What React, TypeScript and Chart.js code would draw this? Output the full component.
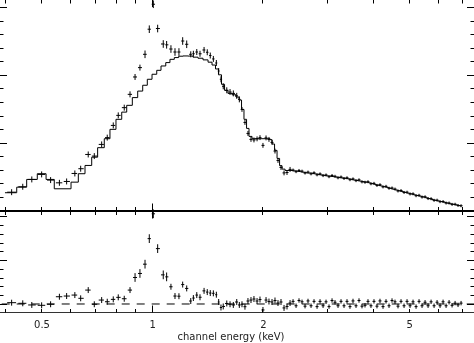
import React, { useEffect, useRef } from "react";
import { Chart, registerables } from "chart.js";

Chart.register(...registerables);

// ---- axis ranges (keV, normalised counts in units of 0.01 /s/keV, residual in sigma)
const E_MIN = 0.38436;
const E_MAX = 7.5706;
const RATE_MIN = -7.553;
const RATE_MAX = 15.586;
const RES_MIN = -1.0286;
const RES_MAX = 34.857;

// ---- tick definitions
const xTicks = [0.4, 0.5, 0.6, 0.7, 0.8, 0.9, 1, 2, 3, 4, 5, 6, 7];
const xMajorTicks = [1];
const xTickLabels = ["0.5", "1", "2", "5"];
const xTickLabelValues = [0.5, 1, 2, 5];
const rateTicks = [1, 2, 3, 4, 5, 6, 7, 8, 9, 10, 11, 12, 13, 14, 15];
const rateMajorTicks = [5, 10, 15];
const resTicks = [0, 1, 2, 3, 4, 5, 6, 7, 8, 9, 10];
const resMajorTicks = [0, 5, 10];
const xTitle = "channel energy (keV)";

// ---- low-energy channels (wide bins)
const lowEnergies = [
  0.416, 0.446, 0.472, 0.502, 0.531, 0.561, 0.587, 0.618, 0.641, 0.672,
  0.698, 0.731, 0.757, 0.786, 0.811, 0.842, 0.873, 0.901, 0.929, 0.959,
  0.985, 1.01, 1.038, 1.075, 1.098, 1.128, 1.157, 1.186, 1.214, 1.245,
  1.277, 1.298, 1.326, 1.353, 1.388, 1.416, 1.443, 1.471, 1.499, 1.521,
  1.543, 1.565, 1.6, 1.633, 1.667, 1.703, 1.731, 1.76, 1.793, 1.827,
  1.862, 1.897, 1.934, 1.97, 2.007, 2.046, 2.084, 2.124, 2.164, 2.205,
  2.247, 2.29, 2.333, 2.378,
];
const lowRates = [
  1.35, 1.75, 2.29, 2.66, 2.24, 2.04, 2.14, 2.73, 3.08, 4.13,
  4.01, 4.87, 5.37, 6.27, 7.01, 7.58, 8.56, 9.84, 10.53, 11.51,
  13.36, 15.2, 13.41, 12.27, 12.21, 11.9, 11.68, 11.68, 12.49, 12.25,
  11.51, 11.55, 11.68, 11.55, 11.83, 11.66, 11.42, 11.17, 10.87, 10.28,
  9.67, 9.15, 8.86, 8.73, 8.63, 8.45, 8.19, 7.45, 6.49, 5.68,
  5.24, 5.2, 5.28, 5.37, 4.8, 5.35, 5.24, 5.02, 4.38, 3.69,
  3.17, 2.77, 2.8, 3.03,
];
const lowRateErr = [
  0.22, 0.22, 0.22, 0.22, 0.22, 0.22, 0.22, 0.22, 0.22, 0.22,
  0.22, 0.22, 0.22, 0.22, 0.22, 0.22, 0.22, 0.22, 0.22, 0.28,
  0.28, 0.28, 0.28, 0.28, 0.28, 0.28, 0.28, 0.28, 0.28, 0.28,
  0.22, 0.22, 0.22, 0.22, 0.22, 0.22, 0.22, 0.22, 0.22, 0.22,
  0.22, 0.22, 0.22, 0.22, 0.22, 0.22, 0.22, 0.18, 0.18, 0.18,
  0.18, 0.18, 0.18, 0.18, 0.18, 0.18, 0.18, 0.18, 0.18, 0.18,
  0.18, 0.18, 0.18, 0.18,
];
const lowResid = [
  0.15, 0.08, -0.11, -0.15, -0.03, 0.83, 0.91, 1.02, 0.65, 1.59,
  -0.03, 0.45, 0.26, 0.53, 0.76, 0.6, 1.59, 3.03, 3.49, 4.55,
  7.47, 10.31, 6.33, 3.33, 3.1, 1.97, 0.91, 0.89, 2.22, 1.78,
  0.34, 0.68, 1.02, 0.77, 1.5, 1.36, 1.25, 1.22, 1.06, 0.23,
  -0.4, -0.28, 0.06, -0.03, -0.11, 0.23, -0.11, -0.03, -0.31, 0.34,
  0.45, 0.57, 0.34, 0.51, -0.68, 0.45, 0.28, 0.23, 0.4, 0.11,
  0.23, -0.45, -0.28, 0.11,
];
const lowResidErr = [
  0.34, 0.34, 0.34, 0.34, 0.34, 0.34, 0.34, 0.34, 0.34, 0.34,
  0.34, 0.34, 0.34, 0.34, 0.34, 0.34, 0.34, 0.5, 0.5, 0.5,
  0.5, 0.5, 0.5, 0.5, 0.5, 0.34, 0.34, 0.34, 0.34, 0.34,
  0.34, 0.34, 0.34, 0.34, 0.34, 0.34, 0.34, 0.34, 0.34, 0.34,
  0.34, 0.34, 0.34, 0.34, 0.34, 0.34, 0.34, 0.34, 0.34, 0.34,
  0.34, 0.34, 0.34, 0.34, 0.34, 0.34, 0.34, 0.34, 0.34, 0.34,
  0.34, 0.34, 0.34, 0.34,
];

// ---- high-energy channels (dense)
const highEnergies = [
  2.423, 2.469, 2.515, 2.563, 2.612, 2.661, 2.712, 2.763, 2.816, 2.869,
  2.924, 2.979, 3.035, 3.093, 3.151, 3.211, 3.272, 3.334, 3.397, 3.461,
  3.527, 3.594, 3.662, 3.731, 3.802, 3.874, 3.947, 4.022, 4.098, 4.176,
  4.256, 4.337, 4.419, 4.503, 4.588, 4.675, 4.764, 4.855, 4.947, 5.041,
  5.136, 5.234, 5.333, 5.434, 5.538, 5.643, 5.75, 5.859, 5.97, 6.083,
  6.199, 6.316, 6.436, 6.558, 6.683, 6.808, 6.938,
];
const highRates = [
  2.98, 2.86, 2.95, 2.9, 2.76, 2.83, 2.7, 2.78, 2.63, 2.7,
  2.57, 2.62, 2.49, 2.58, 2.52, 2.41, 2.47, 2.36, 2.41, 2.27,
  2.33, 2.2, 2.26, 2.11, 2.08, 2.12, 1.97, 2.0, 1.85, 1.9,
  1.74, 1.78, 1.64, 1.66, 1.58, 1.44, 1.47, 1.33, 1.35, 1.22,
  1.23, 1.09, 1.12, 0.99, 1.01, 0.88, 0.87, 0.75, 0.76, 0.65,
  0.66, 0.55, 0.55, 0.45, 0.46, 0.37, 0.35,
];
const highRateErr = 0.11;
const highModel = [
  2.93, 2.91, 2.88, 2.84, 2.8, 2.77, 2.75, 2.72, 2.68, 2.64,
  2.61, 2.57, 2.54, 2.51, 2.48, 2.45, 2.42, 2.39, 2.36, 2.32,
  2.27, 2.23, 2.19, 2.15, 2.11, 2.07, 2.01, 1.95, 1.89, 1.84,
  1.78, 1.73, 1.67, 1.6, 1.54, 1.48, 1.42, 1.37, 1.3, 1.25,
  1.19, 1.13, 1.08, 1.03, 0.97, 0.91, 0.84, 0.78, 0.73, 0.68,
  0.63, 0.58, 0.52, 0.48, 0.44, 0.39, 0.33,
];
const highResid = [
  0.3, -0.2, 0.4, 0.25, -0.25, 0.35, -0.2, 0.3, -0.3, 0.3,
  -0.2, 0.25, -0.3, 0.4, 0.2, -0.2, 0.3, -0.2, 0.3, -0.3,
  0.35, -0.2, 0.4, -0.25, -0.15, 0.3, -0.2, 0.3, -0.25, 0.35,
  -0.3, 0.3, -0.2, 0.4, 0.25, -0.25, 0.3, -0.2, 0.3, -0.2,
  0.25, -0.3, 0.3, -0.2, 0.2, -0.2, 0.25, -0.2, 0.2, -0.2,
  0.25, -0.2, 0.2, -0.15, 0.1, -0.1, 0.1,
];
const highResidErr = 0.25;

// ---- model histogram for the low-energy part (bin left edges + final edge)
const modelEdges = [
  0.399, 0.4295, 0.4571, 0.4885, 0.5161, 0.5433, 0.6034, 0.6316, 0.6586, 0.6868,
  0.7128, 0.743, 0.77, 0.7995, 0.8288, 0.8551, 0.8857, 0.916, 0.9452, 0.9728,
  1.002, 1.032, 1.06, 1.092, 1.121, 1.152, 1.184, 1.216, 1.255, 1.295,
  1.336, 1.379, 1.423, 1.459, 1.491, 1.519, 1.548, 1.578, 1.612, 1.653,
  1.695, 1.728, 1.755, 1.782, 1.811, 1.839, 1.874, 1.995, 2.098, 2.124,
  2.158, 2.192, 2.227, 2.262, 2.305, 2.423,
];
const modelLevels = [
  1.31, 1.72, 2.29, 2.71, 2.29, 1.6, 2.09, 2.71, 3.32, 3.93,
  4.63, 5.29, 5.98, 6.72, 7.25, 7.75, 8.32, 8.8, 9.23, 9.67,
  10.04, 10.33, 10.65, 10.9, 11.14, 11.27, 11.37, 11.39, 11.38, 11.3,
  11.22, 11.1, 10.93, 10.72, 10.43, 10.0, 9.3, 8.85, 8.63, 8.53,
  8.36, 8.14, 7.45, 6.72, 6.05, 5.46, 5.29, 5.29, 5.22, 4.9,
  4.43, 3.84, 3.3, 3.05, 2.95,
];

type Pt = { x: number; y: number | null };

function buildCrosses(
  energies: number[],
  values: number[],
  errs: (i: number) => number,
  shrink: (i: number) => number
): Pt[] {
  const out: Pt[] = [];
  for (let i = 0; i < energies.length; i++) {
    const e = energies[i];
    const prev = i > 0 ? energies[i - 1] : (e * e) / energies[i + 1];
    const next = i < energies.length - 1 ? energies[i + 1] : (e * e) / energies[i - 1];
    const s = shrink(i);
    const lo = e * Math.pow(prev / e, 0.5 * s);
    const hi = e * Math.pow(next / e, 0.5 * s);
    const v = values[i];
    const d = errs(i);
    out.push({ x: lo, y: v }, { x: hi, y: v }, { x: e, y: null });
    out.push({ x: e, y: v - d }, { x: e, y: v + d }, { x: e, y: null });
  }
  return out;
}

const axesPlugin = {
  id: "xspecAxes",
  afterDraw(chart: any) {
    const { ctx, chartArea: a, scales } = chart;
    const xs = scales.x;
    const ys = scales.y;
    const yr = scales.yr;
    ctx.save();
    ctx.strokeStyle = "#000";
    ctx.lineWidth = 1;
    const split = Math.round(ys.getPixelForValue(0));
    const bottom = a.bottom - 0.5;

    // panel divider
    ctx.beginPath();
    ctx.lineWidth = 2;
    ctx.moveTo(a.left, split);
    ctx.lineTo(a.right, split);
    ctx.stroke();

    // bottom axis
    ctx.lineWidth = 1;
    ctx.strokeStyle = "#333";
    ctx.beginPath();
    ctx.moveTo(a.left, bottom);
    ctx.lineTo(a.right, bottom);
    ctx.stroke();
    ctx.strokeStyle = "#000";

    ctx.beginPath();
    xTicks.forEach((t) => {
      const px = Math.round(xs.getPixelForValue(t)) + 0.5;
      const major = xMajorTicks.includes(t);
      const len = major ? 8 : 4.5;
      ctx.moveTo(px, a.top);
      ctx.lineTo(px, a.top + len);
      ctx.moveTo(px, split - len + 0.5);
      ctx.lineTo(px, split + len - 0.5);
      ctx.moveTo(px, bottom);
      ctx.lineTo(px, bottom - len + 1);
    });
    rateTicks.forEach((t) => {
      const py = Math.round(ys.getPixelForValue(t)) + 0.5;
      const len = rateMajorTicks.includes(t) ? 8 : 4.5;
      ctx.moveTo(a.left, py);
      ctx.lineTo(a.left + len, py);
      ctx.moveTo(a.right, py);
      ctx.lineTo(a.right - len, py);
    });
    resTicks.forEach((t) => {
      const py = Math.round(yr.getPixelForValue(t)) + 0.5;
      const len = resMajorTicks.includes(t) ? 8 : 4.5;
      ctx.moveTo(a.left, py);
      ctx.lineTo(a.left + len, py);
      ctx.moveTo(a.right, py);
      ctx.lineTo(a.right - len, py);
    });
    ctx.stroke();

    ctx.fillStyle = "#222";
    ctx.font = '10px "DejaVu Sans"';
    ctx.textAlign = "center";
    ctx.textBaseline = "alphabetic";
    xTickLabelValues.forEach((v, i) => {
      ctx.fillText(xTickLabels[i], xs.getPixelForValue(v) + 1, a.bottom + 14.5);
    });
    ctx.fillText(xTitle, (a.left + a.right) / 2 - 6, a.bottom + 26.5);
    ctx.restore();
  },
};

export default function App() {
  const canvasRef = useRef<HTMLCanvasElement | null>(null);

  useEffect(() => {
    document.documentElement.style.overflow = "hidden";
    document.body.style.overflow = "hidden";
    const canvas = canvasRef.current;
    if (!canvas) return;

    const modelStep: Pt[] = modelEdges.map((e, i) => ({
      x: e,
      y: modelLevels[Math.min(i, modelLevels.length - 1)],
    }));
    const modelCont: Pt[] = highEnergies.map((e, i) => ({ x: e, y: highModel[i] }));

    const allE = [...lowEnergies, ...highEnergies];
    const allRates = [...lowRates, ...highRates];
    const allResid = [...lowResid, ...highResid];
    const nLow = lowEnergies.length;
    const shrink = (i: number) => (i < 40 ? 0.8 : 1.0);

    const rateBars = buildCrosses(
      allE,
      allRates,
      (i) => (i < nLow ? lowRateErr[i] : highRateErr),
      shrink
    );
    const residBars = buildCrosses(
      allE,
      allResid,
      (i) => (i < nLow ? lowResidErr[i] : highResidErr),
      shrink
    );

    const common = {
      showLine: true,
      pointRadius: 0,
      pointHoverRadius: 0,
      borderColor: "#000",
      backgroundColor: "#000",
      borderWidth: 1,
      fill: false,
      spanGaps: false,
    };

    const chart = new Chart(canvas, {
      type: "scatter",
      data: {
        datasets: [
          { ...common, label: "model", data: modelStep, stepped: "before", yAxisID: "y" } as any,
          { ...common, label: "model cont", data: modelCont, yAxisID: "y" } as any,
          { ...common, label: "data", data: rateBars, yAxisID: "y" } as any,
          { ...common, label: "residuals", data: residBars, yAxisID: "yr" } as any,
          {
            ...common,
            label: "zero",
            data: [
              { x: E_MIN, y: 0 },
              { x: E_MAX, y: 0 },
            ],
            borderDash: [8, 7],
            borderDashOffset: 12.3,
            yAxisID: "yr",
          } as any,
        ],
      },
      options: {
        animation: false,
        responsive: false,
        devicePixelRatio: 1,
        events: [],
        layout: { padding: { left: 0, right: 0, top: 0, bottom: 31 } },
        plugins: {
          legend: { display: false },
          tooltip: { enabled: false },
        },
        scales: {
          x: { type: "logarithmic", min: E_MIN, max: E_MAX, display: false },
          y: { type: "linear", min: RATE_MIN, max: RATE_MAX, display: false },
          yr: { type: "linear", min: RES_MIN, max: RES_MAX, display: false },
        },
      } as any,
      plugins: [axesPlugin],
    });

    return () => {
      chart.destroy();
    };
  }, []);

  return (
    <div
      style={{
        position: "fixed",
        left: -1,
        top: -1,
        width: 476,
        height: 345,
        background: "#fff",
      }}
    >
      <canvas ref={canvasRef} width={476} height={345} style={{ width: 476, height: 345, display: "block" }} />
    </div>
  );
}
